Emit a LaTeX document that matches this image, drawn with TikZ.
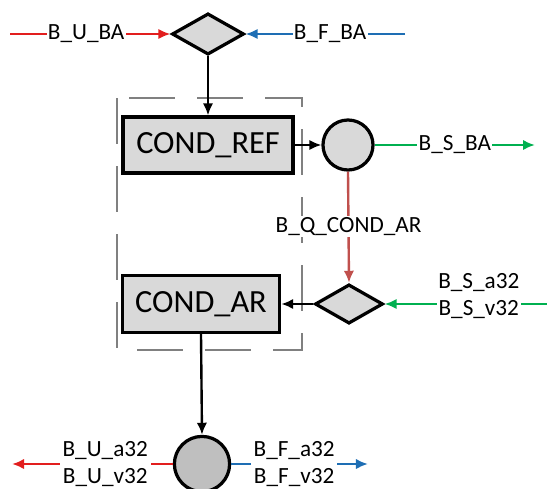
\documentclass[tikz,border=0pt]{standalone}
\usepackage{fontspec}
\setmainfont{Carlito}
\usetikzlibrary{arrows.meta,shapes.geometric}
\definecolor{ured}{RGB}{226,30,30}
\definecolor{fblue}{RGB}{30,110,180}
\definecolor{sgreen}{RGB}{0,176,80}
\definecolor{qbrown}{RGB}{192,80,77}
\definecolor{boxgray}{RGB}{217,217,217}
\definecolor{dotgray}{RGB}{191,191,191}
\definecolor{framegray}{RGB}{128,128,128}

\begin{document}
\begin{tikzpicture}[x=0.025cm, y=-0.025cm,
  block/.style={draw, line width=2.3pt, fill=boxgray, inner sep=0pt,
                font=\fontsize{23}{27}\selectfont},
  junc/.style={circle, draw, line width=2.3pt, fill=boxgray, inner sep=0pt,
               minimum size=1.25cm},
  gate/.style={diamond, draw, line width=2.3pt, fill=boxgray, inner sep=0pt},
  lbl/.style={fill=white, text=black, inner sep=1pt, align=center,
              font=\fontsize{16.5}{19}\selectfont},
  arr/.style={-{Latex[length=3mm,width=2.6mm]}, line width=1.7pt}
]
\useasboundingbox (0,0) rectangle (547,488);
\draw[framegray, line width=1.6pt, dash pattern=on 1.15cm off 0.55cm]
  (117,98) -- (117,350) -- (302,350) -- (302,98) -- cycle;

\node[gate, minimum width=1.8cm, minimum height=1.03cm] (top) at (208,34) {};
\node[block, minimum width=4.25cm, minimum height=1.4cm] (ref) at (208,145) {COND\_REF};
\node[junc] (qsum) at (348,145) {};
\node[gate, minimum width=1.7cm, minimum height=0.98cm] (sel) at (349,304) {};
\node[block, minimum width=3.93cm, minimum height=1.43cm] (ar) at (201,304) {COND\_AR};
\node[junc, fill=dotgray, minimum size=1.38cm] (out) at (202,464) {};

\coordinate (ubaIn) at (10,34);
\coordinate (fbaIn) at (405,34);
\coordinate (sbaOut) at (535,145);
\coordinate (svIn) at (547,304);
\coordinate (uOut) at (12,464);
\coordinate (fOut) at (368,464);

\draw[arr, ured] (ubaIn) -- (top.west) node[lbl, pos=0.475] {B\_U\_BA};
\draw[arr, fblue] (fbaIn) -- (top.east) node[lbl, pos=0.47] {B\_F\_BA};
\draw[arr] (top.south) -- (ref.north);
\draw[arr] (ref.east) -- (qsum.west);
\draw[arr, sgreen] (qsum.east) -- (sbaOut) node[lbl, pos=0.5] {B\_S\_BA};
\draw[arr, qbrown] (qsum.south) -- (sel.north) node[lbl, pos=0.49] {B\_Q\_COND\_AR};
\draw[arr] (sel.west) -- (ar.east);
\draw[arr, sgreen] (svIn) -- (sel.east)
  node[lbl, pos=0.42, yshift=0.2cm] {B\_S\_a32\\B\_S\_v32};
\draw[arr] (ar.south) -- (out.north);
\draw[arr, ured] (out.west) -- (uOut)
  node[lbl, pos=0.42, inner ysep=0pt, inner xsep=2pt] {B\_U\_a32\\B\_U\_v32};
\draw[arr, fblue] (out.east) -- (fOut)
  node[lbl, pos=0.46, inner ysep=0pt, inner xsep=2pt] {B\_F\_a32\\B\_F\_v32};
\end{tikzpicture}
\end{document}
